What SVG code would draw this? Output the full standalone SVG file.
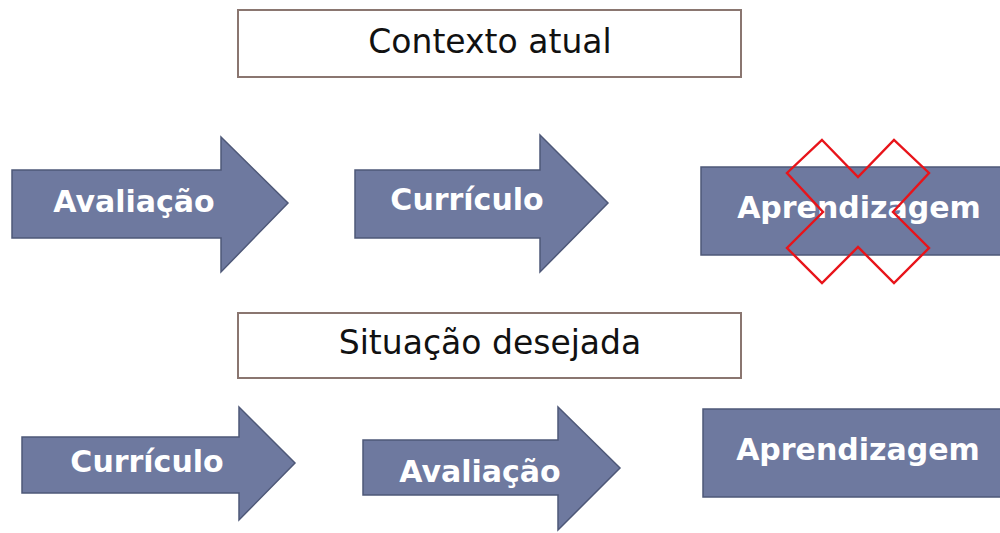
<svg xmlns="http://www.w3.org/2000/svg" width="1000" height="533" viewBox="0 0 1000 533">
<style>
.box{fill:#fff;stroke:#8a7670;stroke-width:2}
.btxt{font-family:"DejaVu Sans",sans-serif;font-size:33px;fill:#111;text-anchor:middle}
.shape{fill:#6e799f;stroke:#4e5878;stroke-width:1.5}
.lbl{font-family:"DejaVu Sans",sans-serif;font-weight:bold;font-size:30px;fill:#fff;text-anchor:middle}
.cross{fill:none;stroke:#e8141a;stroke-width:2.4;stroke-linejoin:miter}
</style>
<rect width="1000" height="533" fill="#fff"/>
<g id="contexto">
<rect class="box" x="238" y="10" width="503" height="67"/>
<text class="btxt" x="490" y="53">Contexto atual</text>
</g>
<g id="a1">
<polygon class="shape" points="12,170 221,170 221,137 288,203 221,272 221,238 12,238"/>
<text class="lbl" x="134" y="212">Avaliação</text>
</g>
<g id="a2">
<polygon class="shape" points="355,170 540,170 540,135 608,203 540,272 540,238 355,238"/>
<text class="lbl" x="467" y="210">Currículo</text>
</g>
<g id="a3">
<rect class="shape" x="701" y="167" width="310" height="88"/>
<text class="lbl" x="859" y="218">Aprendizagem</text>
</g>
<g id="x">
<polygon class="cross" points="822,140 858,177 894,140 929,173 893,212 929,248 894,283 858,247 822,283 787,248 823,212 787,173"/>
</g>
<g id="situacao">
<rect class="box" x="238" y="313" width="503" height="65"/>
<text class="btxt" x="490" y="354">Situação desejada</text>
</g>
<g id="b1">
<polygon class="shape" points="22,437 239,437 239,407 295,463 239,520 239,493 22,493"/>
<text class="lbl" x="147" y="472">Currículo</text>
</g>
<g id="b2">
<polygon class="shape" points="363,440 558,440 558,407 620,468 558,530 558,495 363,495"/>
<text class="lbl" x="480" y="482">Avaliação</text>
</g>
<g id="b3">
<rect class="shape" x="703" y="409" width="310" height="88"/>
<text class="lbl" x="858" y="460">Aprendizagem</text>
</g>
<g id="connectors"/>
</svg>
